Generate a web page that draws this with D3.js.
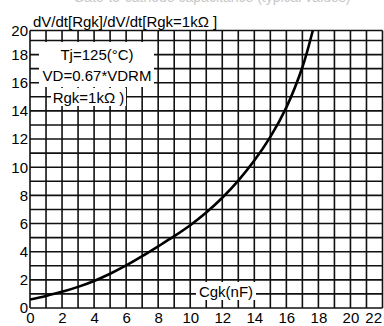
<!DOCTYPE html>
<html lang="en">
<head>
<meta charset="UTF-8">
<title>dV/dt ratio vs gate-cathode capacitance</title>
<style>
  body { margin: 0; background: #fff; }
  svg { display: block; font-family: "Liberation Sans", Arial, sans-serif; }
</style>
<script src="https://d3js.org/d3.v7.min.js"></script>
</head>
<body>
<div id="chart"></div>
<script>
// Cgk (nF) and dV/dt ratio
const capNF = [0, 1, 2, 3, 4, 5, 6, 7, 8, 9, 10, 11, 12, 13, 14, 15, 16, 17, 17.65];
const dvdtRatio = [0.6, 0.86, 1.15, 1.5, 1.92, 2.43, 3.02, 3.68, 4.38, 5.1, 5.88, 6.78, 7.83, 9.05, 10.47, 12.15, 14.25, 17.1, 20];

const xTickValues = [0, 2, 4, 6, 8, 10, 12, 14, 16, 18, 20, 22];
const yTickValues = [0, 2, 4, 6, 8, 10, 12, 14, 16, 18, 20];
const conditionLines = ["Tj=125(°C)", "VD=0.67*VDRM", "Rgk=1kΩ )"];

const width = 384, height = 326;

const svg = d3.select('#chart').append('svg')
  .attr('width', width)
  .attr('height', height);

// top row of the grid is squashed in the source, so the y scale is polylinear
const x = d3.scaleLinear().domain([0, 22]).range([30, 382.5]);
const y = d3.scaleLinear().domain([0, 19, 20]).range([308, 40.5, 30.5]);

// faint caption, mostly cut off by the top edge
svg.append('text')
  .attr('x', 212).attr('y', 1.5)
  .attr('text-anchor', 'middle')
  .attr('fill', '#c8c8c8')
  .style('font-size', '14px')
  .text('Gate-to-cathode capacitance (typical values)');

// grid
const grid = svg.append('g')
  .attr('stroke', '#111')
  .attr('stroke-width', 1.6);

grid.selectAll('line.v')
  .data(d3.range(0, 23))
  .enter().append('line')
  .attr('class', 'v')
  .attr('x1', d => x(d)).attr('x2', d => x(d))
  .attr('y1', y(0)).attr('y2', y(20));

grid.selectAll('line.h')
  .data(d3.range(0, 21))
  .enter().append('line')
  .attr('class', 'h')
  .attr('x1', x(0)).attr('x2', x(22))
  .attr('y1', d => y(d)).attr('y2', d => y(d));

// curve
svg.append('clipPath').attr('id', 'plot-clip')
  .append('rect')
  .attr('x', x(0)).attr('y', y(20) - 2)
  .attr('width', x(22) - x(0)).attr('height', y(0) - y(20) + 2);

const line = d3.line()
  .x(d => x(d[0]))
  .y(d => y(d[1]))
  .curve(d3.curveCatmullRom.alpha(0.5));

svg.append('path')
  .datum(capNF.map((c, i) => [c, dvdtRatio[i]]))
  .attr('clip-path', 'url(#plot-clip)')
  .attr('fill', 'none')
  .attr('stroke', '#000')
  .attr('stroke-width', 2.6)
  .attr('d', line);

// axes labels (ticks are the grid itself)
const xAxis = svg.append('g')
  .attr('transform', `translate(0, ${y(0)})`)
  .call(d3.axisBottom(x).tickValues(xTickValues).tickSize(0).tickPadding(4));
xAxis.select('.domain').remove();
xAxis.selectAll('text')
  .attr('fill', '#000')
  .style('font-size', '15px')
  .style('font-family', '"Liberation Sans", Arial, sans-serif')
  .filter(d => d === 22).attr('text-anchor', 'end').attr('dx', '-1');

const yAxis = svg.append('g')
  .attr('transform', `translate(${x(0)}, 0)`)
  .call(d3.axisLeft(y).tickValues(yTickValues).tickSize(0).tickPadding(2));
yAxis.select('.domain').remove();
yAxis.selectAll('text')
  .attr('fill', '#000')
  .style('font-size', '15px')
  .style('font-family', '"Liberation Sans", Arial, sans-serif');

// y axis title
svg.append('text')
  .attr('x', 33).attr('y', 27)
  .style('font-size', '15px')
  .text('dV/dt[Rgk]/dV/dt[Rgk=1kΩ ]');

// condition box
const notes = svg.append('g').style('font-size', '15px');
notes.append('rect')
  .attr('x', 39).attr('y', 42)
  .attr('width', 115).attr('height', 45)
  .attr('fill', '#fff');
notes.append('rect')
  .attr('x', 51).attr('y', 88)
  .attr('width', 75).attr('height', 18)
  .attr('fill', '#fff');

const notePos = [[97, 54], [97, 75], [88.5, 97]];
notes.selectAll('text')
  .data(conditionLines)
  .enter().append('text')
  .attr('x', (d, i) => notePos[i][0])
  .attr('y', (d, i) => notePos[i][1])
  .attr('text-anchor', 'middle')
  .attr('dominant-baseline', 'central')
  .text(d => d);

// x axis title
svg.append('rect')
  .attr('x', 196).attr('y', 282)
  .attr('width', 60).attr('height', 18)
  .attr('fill', '#fff');
svg.append('text')
  .attr('x', 226).attr('y', 291)
  .attr('text-anchor', 'middle')
  .attr('dominant-baseline', 'central')
  .style('font-size', '15px')
  .text('Cgk(nF)');
</script>
</body>
</html>
